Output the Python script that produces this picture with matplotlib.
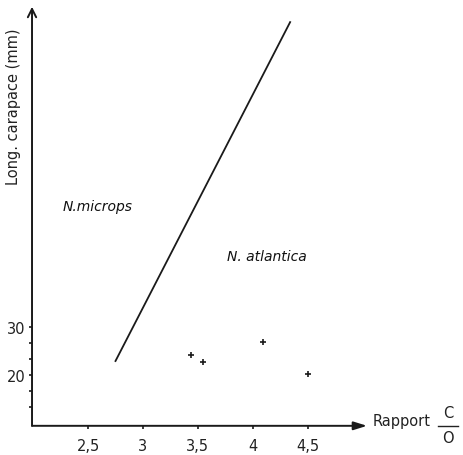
import matplotlib
matplotlib.use("Agg")
import matplotlib.pyplot as plt
import numpy as np

# boundary line between the two species
line_x = [2.75, 4.34]
line_y = [22.9, 93.5]

# measured specimens
pts_x = [3.44, 3.55, 4.09, 4.50]
pts_y = [24.2, 22.7, 26.9, 20.2]

xticks = [2.5, 3.0, 3.5, 4.0, 4.5]
xlabels = ["2,5", "3", "3,5", "4", "4,5"]
yticks_minor = [20 + k * 10 / 3 for k in range(-2, 4)]
yticks = [20, 30]
ylabels = ["20", "30"]

fig = plt.figure(figsize=(4.64, 4.56), dpi=100)
ax = fig.add_axes([0.069, 0.064, 0.722, 0.919])

xmin, xmax = 1.99, 5.04
ymin, ymax = 9.4, 96.7
ax.set_xlim(xmin, xmax)
ax.set_ylim(ymin, ymax)

ax.plot(line_x, line_y, color="#1a1a1a", lw=1.3)
ax.plot(pts_x, pts_y, "+", color="#1a1a1a", ms=5, mew=1.2)

for s in ax.spines.values():
    s.set_visible(False)

# axes drawn as arrows
ax.annotate("", xy=(1, 0), xytext=(0, 0), xycoords="axes fraction",
            arrowprops=dict(arrowstyle="-|>,head_length=0.8,head_width=0.25",
                            color="#1a1a1a", lw=1.4, shrinkA=0, shrinkB=0))
ax.annotate("", xy=(0, 1), xytext=(0, 0), xycoords="axes fraction",
            arrowprops=dict(arrowstyle="->,head_length=0.6,head_width=0.3",
                            color="#1a1a1a", lw=1.4, shrinkA=0, shrinkB=0))

ax.set_xticks(xticks)
ax.set_xticklabels(xlabels)
ax.set_yticks(yticks_minor)
ax.set_yticklabels(["", "", ylabels[0], "", "", ylabels[1]])
ax.tick_params(axis="both", direction="out", length=2.5, width=1.2,
               color="#1a1a1a", labelsize=10.5, labelcolor="#222222", pad=6)
ax.tick_params(axis="y", pad=2)

fig.text(0.03, 0.765, "Long. carapace (mm)", rotation=90, ha="center",
         va="center", fontsize=10.5, color="#222222")

ax.text(63, 456 - 207, "N.microps", transform=None, fontsize=10,
        style="italic", va="center", ha="left", color="#111111")
ax.text(227, 456 - 257, "N. atlantica", transform=None, fontsize=10,
        style="italic", va="center", ha="left", color="#111111")

fig.text(373 / 464, 1 - 422 / 456, "Rapport", fontsize=10.5, va="center",
         ha="left", color="#222222")
fig.text(448 / 464, 1 - 414 / 456, "C", fontsize=10.5, va="center",
         ha="center", color="#222222")
fig.text(448 / 464, 1 - 439 / 456, "O", fontsize=10.5, va="center",
         ha="center", color="#222222")
fig.add_artist(plt.Line2D([438 / 464, 458 / 464], [1 - 427 / 456, 1 - 427 / 456],
                          transform=fig.transFigure, color="#222222", lw=1))

fig.savefig("out.png", dpi=100, facecolor="white")
